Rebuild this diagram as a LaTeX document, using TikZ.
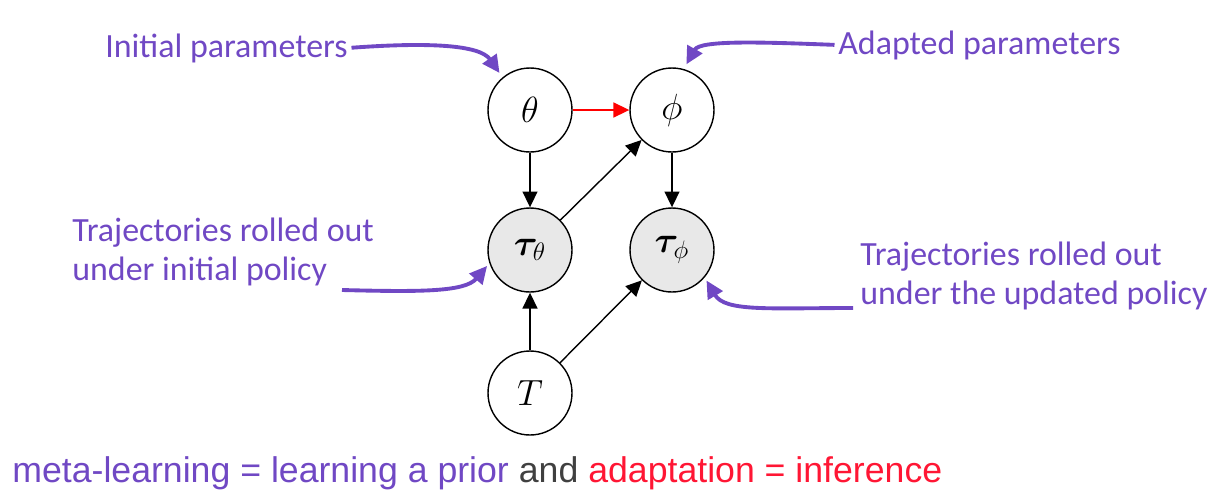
\documentclass[tikz,border=0pt]{standalone}
\usepackage{fontspec}
\usepackage{bm}
\setmainfont{Carlito}
\newfontfamily\helv{Liberation Sans}
\usetikzlibrary{arrows.meta}
\definecolor{lblpurple}{RGB}{112,72,196}
\definecolor{infred}{RGB}{255,22,52}
\definecolor{andgray}{RGB}{64,64,64}

\begin{document}
\begin{tikzpicture}[x=0.02cm,y=-0.02cm,
  var/.style={circle,draw,line width=0.8pt,minimum size=1.68cm,inner sep=0pt,font=\fontsize{20}{24}\selectfont},
  obs/.style={var,fill=black!9},
  edge/.style={-{Triangle[length=9pt,width=8.5pt]},line width=0.8pt},
  note/.style={text=lblpurple,font=\fontsize{19.3}{22.7}\selectfont,align=left,inner sep=0pt},
  pointer/.style={-{Triangle[length=10pt,width=9.5pt]},draw=lblpurple,line width=2.2pt}]
\useasboundingbox (0,0) rectangle (1221,498);

% graphical model
\node[var] (theta) at (530,110) {$\theta$};
\node[var] (phi) at (672,110) {$\phi$};
\node[obs] (tautheta) at (530,250) {$\bm{\tau}_\theta$};
\node[obs] (tauphi) at (672,250) {$\bm{\tau}_\phi$};
\node[var] (task) at (530,393) {$T$};

\draw[edge,red] (theta) -- (phi);
\draw[edge] (theta) -- (tautheta);
\draw[edge] (tautheta) -- (phi);
\draw[edge] (phi) -- (tauphi);
\draw[edge] (task) -- (tautheta);
\draw[edge] (task) -- (tauphi);

% annotations
\node[note,anchor=west] (initlbl) at (105,48) {Initial parameters};
\node[note,anchor=west] (adaptlbl) at (838,45) {Adapted parameters};
\node[note,anchor=west] (trajinit) at (72,252) {Trajectories rolled out\\under initial policy};
\node[note,anchor=west] (trajupd) at (860,276) {Trajectories rolled out\\under the updated policy};
\coordinate (trajinit-tail) at (342,290);
\coordinate (trajupd-tail) at (853,308);

\draw[pointer,shorten <=2pt,shorten >=3pt] (initlbl.east) .. controls (430,42) and (480,45) .. (theta.130);
\draw[pointer,shorten <=2pt,shorten >=3pt] (adaptlbl.west) .. controls (760,42) and (700,40) .. (phi.74);
\draw[pointer,shorten >=2pt] (trajinit-tail) .. controls (420,292) and (465,292) .. (tautheta.198);
\draw[pointer,shorten >=2pt] (trajupd-tail) .. controls (770,308) and (725,312) .. (tauphi.-40);

% bottom line
\node[anchor=base west,inner sep=0pt,font=\helv\fontsize{20.3}{24}\selectfont] (motto) at (12,482)
  {\textcolor{lblpurple}{meta-learning = learning a prior} \textcolor{andgray}{and} \textcolor{infred}{adaptation = inference}};
\end{tikzpicture}
\end{document}
